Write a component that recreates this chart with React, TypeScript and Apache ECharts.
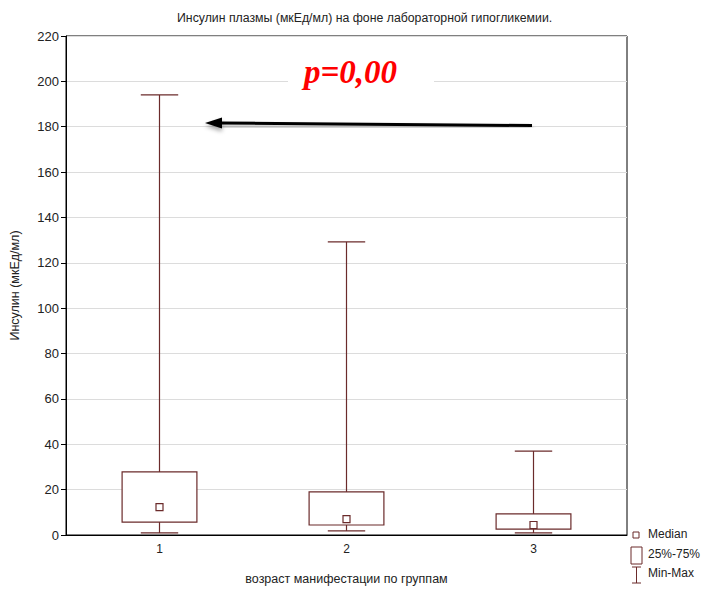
import React, { useEffect, useRef } from "react";
import * as echarts from "echarts";

// Groups by age of manifestation
const groups = ["1", "2", "3"];
// Plasma insulin summary per group: min, 25%, median, 75%, max (µU/ml)
const minValues = [0.9, 1.8, 0.9];
const q1Values = [5.7, 4.4, 2.6];
const medianValues = [12.3, 7.0, 4.4];
const q3Values = [27.8, 19.0, 9.3];
const maxValues = [194.0, 129.2, 37.0];
const yTicks = { min: 0, max: 220, interval: 20 };

const BOX = "#6b2b2b";
const FONT = "Liberation Sans, Arial, sans-serif";

export default function App() {
  const ref = useRef<HTMLDivElement>(null);

  useEffect(() => {
    if (!ref.current) return;
    const chart = echarts.init(ref.current, undefined, { renderer: "svg" });

    const data = groups.map((_, i) => [
      i,
      minValues[i],
      q1Values[i],
      medianValues[i],
      q3Values[i],
      maxValues[i],
    ]);

    const renderItem = (params: any, api: any) => {
      const idx = api.value(0);
      const band = api.size([1, 0])[0];
      const boxW = band * 0.4;
      const capW = band * 0.2;
      const pMin = api.coord([idx, api.value(1)]);
      const pQ1 = api.coord([idx, api.value(2)]);
      const pMed = api.coord([idx, api.value(3)]);
      const pQ3 = api.coord([idx, api.value(4)]);
      const pMax = api.coord([idx, api.value(5)]);
      const x = pMed[0];
      const lineStyle = { stroke: BOX, lineWidth: 1.2, fill: null };
      return {
        type: "group",
        children: [
          { type: "line", shape: { x1: x, y1: pMax[1], x2: x, y2: pQ3[1] }, style: lineStyle },
          { type: "line", shape: { x1: x, y1: pQ1[1], x2: x, y2: pMin[1] }, style: lineStyle },
          { type: "line", shape: { x1: x - capW / 2, y1: pMax[1], x2: x + capW / 2, y2: pMax[1] }, style: lineStyle },
          { type: "line", shape: { x1: x - capW / 2, y1: pMin[1], x2: x + capW / 2, y2: pMin[1] }, style: lineStyle },
          {
            type: "rect",
            shape: { x: x - boxW / 2, y: pQ3[1], width: boxW, height: pQ1[1] - pQ3[1] },
            style: { stroke: BOX, lineWidth: 1.2, fill: "#fff" },
          },
          {
            type: "rect",
            shape: { x: x - 3.5, y: pMed[1] - 3.5, width: 7, height: 7 },
            style: { stroke: BOX, lineWidth: 1.2, fill: "#fff" },
          },
        ],
      };
    };

    const legendText = { fill: "#222", fontSize: 12, fontFamily: FONT };

    chart.setOption({
      animation: false,
      backgroundColor: "#fff",
      title: {
        text: "Инсулин плазмы (мкЕд/мл) на фоне лабораторной гипогликемии.",
        left: 172,
        top: 7,
        textStyle: { fontSize: 12.3, fontWeight: "normal", color: "#222", fontFamily: FONT },
      },
      grid: {
        left: 63,
        right: 75,
        top: 36,
        bottom: 55,
        show: true,
        borderColor: "#000",
        borderWidth: 1,
      },
      xAxis: {
        type: "category",
        data: groups,
        name: "возраст манифестации по группам",
        nameLocation: "middle",
        nameGap: 37,
        nameTextStyle: { fontSize: 12.5, color: "#222", fontFamily: FONT },
        axisLine: { lineStyle: { color: "#000" } },
        axisTick: { alignWithLabel: true, length: 4, lineStyle: { color: "#000" } },
        axisLabel: { fontSize: 12, color: "#222", margin: 8, fontFamily: FONT },
        splitLine: { show: false },
      },
      yAxis: {
        type: "value",
        min: yTicks.min,
        max: yTicks.max,
        interval: yTicks.interval,
        name: "Инсулин (мкЕд/мл)",
        nameLocation: "middle",
        nameGap: 45,
        nameTextStyle: { fontSize: 12.5, color: "#222", fontFamily: FONT },
        axisLine: { show: true, lineStyle: { color: "#000" } },
        axisTick: { show: true, length: 5, lineStyle: { color: "#000" } },
        axisLabel: { fontSize: 13, color: "#222", margin: 7, fontFamily: FONT },
        splitLine: { show: true, lineStyle: { color: "#dcdcdc" } },
      },
      series: [
        {
          type: "custom",
          renderItem,
          data,
          encode: { x: 0, y: [1, 2, 3, 4, 5] },
          z: 5,
        },
      ],
      graphic: [
        // p-value annotation
        {
          type: "rect",
          shape: { x: 288, y: 62, width: 146, height: 30 },
          style: { fill: "#fff" },
          z: 10,
        },
        {
          type: "text",
          x: 304,
          y: 55,
          style: {
            text: "p=0,00",
            fill: "#ff0000",
            fontSize: 33,
            fontWeight: "bold",
            fontStyle: "italic",
            fontFamily: "Liberation Serif, Times New Roman, serif",
          },
          z: 11,
        },
        // arrow pointing to group 1 maximum
        {
          type: "line",
          shape: { x1: 532, y1: 125.5, x2: 220, y2: 123 },
          style: {
            stroke: "#000",
            lineWidth: 3,
            shadowColor: "rgba(0,0,0,0.35)",
            shadowBlur: 4,
            shadowOffsetY: 3,
          },
          z: 11,
        },
        {
          type: "polygon",
          shape: { points: [[205, 123], [222, 117.5], [222, 128.5]] },
          style: {
            fill: "#000",
            shadowColor: "rgba(0,0,0,0.35)",
            shadowBlur: 4,
            shadowOffsetY: 3,
          },
          z: 11,
        },
        // legend
        {
          type: "rect",
          shape: { x: 633, y: 532, width: 6, height: 6 },
          style: { stroke: BOX, lineWidth: 1, fill: "#fff" },
        },
        { type: "text", x: 648, y: 528, style: { text: "Median", ...legendText } },
        {
          type: "rect",
          shape: { x: 631, y: 547, width: 11, height: 17 },
          style: { stroke: BOX, lineWidth: 1, fill: "#fff" },
        },
        { type: "text", x: 648, y: 548, style: { text: "25%-75%", ...legendText } },
        { type: "line", shape: { x1: 636.5, y1: 567, x2: 636.5, y2: 583 }, style: { stroke: BOX, lineWidth: 1 } },
        { type: "line", shape: { x1: 632, y1: 567, x2: 641, y2: 567 }, style: { stroke: BOX, lineWidth: 1 } },
        { type: "line", shape: { x1: 632, y1: 583, x2: 641, y2: 583 }, style: { stroke: BOX, lineWidth: 1 } },
        { type: "text", x: 648, y: 567, style: { text: "Min-Max", ...legendText } },
      ],
    });

    return () => chart.dispose();
  }, []);

  return (
    <div
      ref={ref}
      style={{ position: "absolute", left: 0, top: 0, width: 702, height: 590 }}
    />
  );
}
